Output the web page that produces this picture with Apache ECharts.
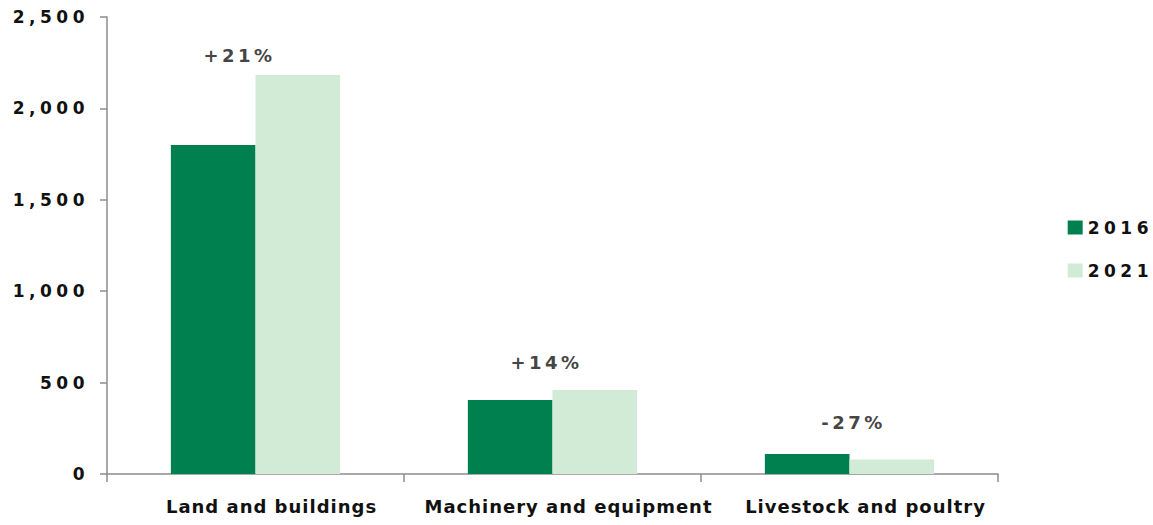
<!DOCTYPE html>
<html><head><meta charset="utf-8">
<script src="https://cdn.jsdelivr.net/npm/echarts@6/dist/echarts.min.js"></script>
<style>html,body{margin:0;padding:0;background:#fff;} #chart{width:1153px;height:525px;}</style>
</head><body><div id="chart"></div>
<script>
const categories = ['Land and buildings', 'Machinery and equipment', 'Livestock and poultry'];
const seriesNames = ['2016', '2021'];
const values2016 = [1800, 405, 110];
const values2021 = [2183, 460, 80];
const changeLabels = ['+21%', '+14%', '-27%'];
const yTickValues = [0, 500, 1000, 1500, 2000, 2500];

// layout only
const labelDistance = [10, 18, 22];
const labelShiftX = [-16, -6, 4];
const FONT = 'DejaVu Sans';
const TXT = '#111111';
const AXIS = '#8c8c8c';

const chart = echarts.init(document.getElementById('chart'), null, { renderer: 'svg' });
const option = {
  animation: false,
  grid: { left: 107, right: 155, top: 17, bottom: 51 },
  legend: {
    orient: 'vertical', right: 13, top: 214, itemWidth: 15, itemHeight: 14, itemGap: 26,
    icon: 'rect', data: seriesNames,
    textStyle: { fontFamily: FONT, fontWeight: 'bold', fontSize: 17, color: TXT }
  },
  xAxis: {
    type: 'category', data: categories,
    axisLine: { lineStyle: { color: AXIS, width: 1.5 } },
    axisTick: { show: true, length: 8, lineStyle: { color: AXIS, width: 1.5 } },
    axisLabel: { interval: 0, margin: 23, padding: [0, 0, 0, 32], fontFamily: FONT, fontWeight: 'bold', fontSize: 18, color: TXT }
  },
  yAxis: {
    type: 'value', min: yTickValues[0], max: yTickValues[yTickValues.length - 1],
    interval: yTickValues[1] - yTickValues[0],
    axisLine: { show: true, lineStyle: { color: AXIS, width: 1.5 } },
    axisTick: { show: true, length: 7, lineStyle: { color: AXIS, width: 1.5 } },
    splitLine: { show: false },
    axisLabel: {
      margin: 18, fontFamily: FONT, fontWeight: 'bold', fontSize: 17, color: TXT,
      formatter: v => v.toLocaleString('en-US')
    }
  },
  series: [
    { name: seriesNames[0], type: 'bar', data: values2016, barGap: '0%', barCategoryGap: '43%',
      itemStyle: { color: '#00804E' } },
    { name: seriesNames[1], type: 'bar', data: values2021, itemStyle: { color: '#D1EBD6' } },
    { type: 'scatter', silent: true, symbolSize: 0,
      data: categories.map((c, i) => ({ value: Math.max(values2016[i], values2021[i]),
        label: { distance: labelDistance[i], offset: [labelShiftX[i], 0] } })),
      label: { show: true, position: 'top', formatter: p => changeLabels[p.dataIndex],
        fontFamily: FONT, fontWeight: 'bold', fontSize: 18, color: TXT } }
  ]
};
chart.setOption(option);

function spaceText() {
  const texts = document.querySelectorAll('#chart text');
  texts.forEach(t => {
    const s = t.textContent.trim();
    if (/^[\d,]+$/.test(s)) t.style.letterSpacing = '4.5px';
    else if (/%$/.test(s)) t.style.letterSpacing = '3.5px';
    else if (categories.includes(s)) t.style.letterSpacing = '1px';
  });
}
chart.on('finished', spaceText);
setTimeout(spaceText, 0);
setTimeout(spaceText, 100);
</script>
</body></html>
